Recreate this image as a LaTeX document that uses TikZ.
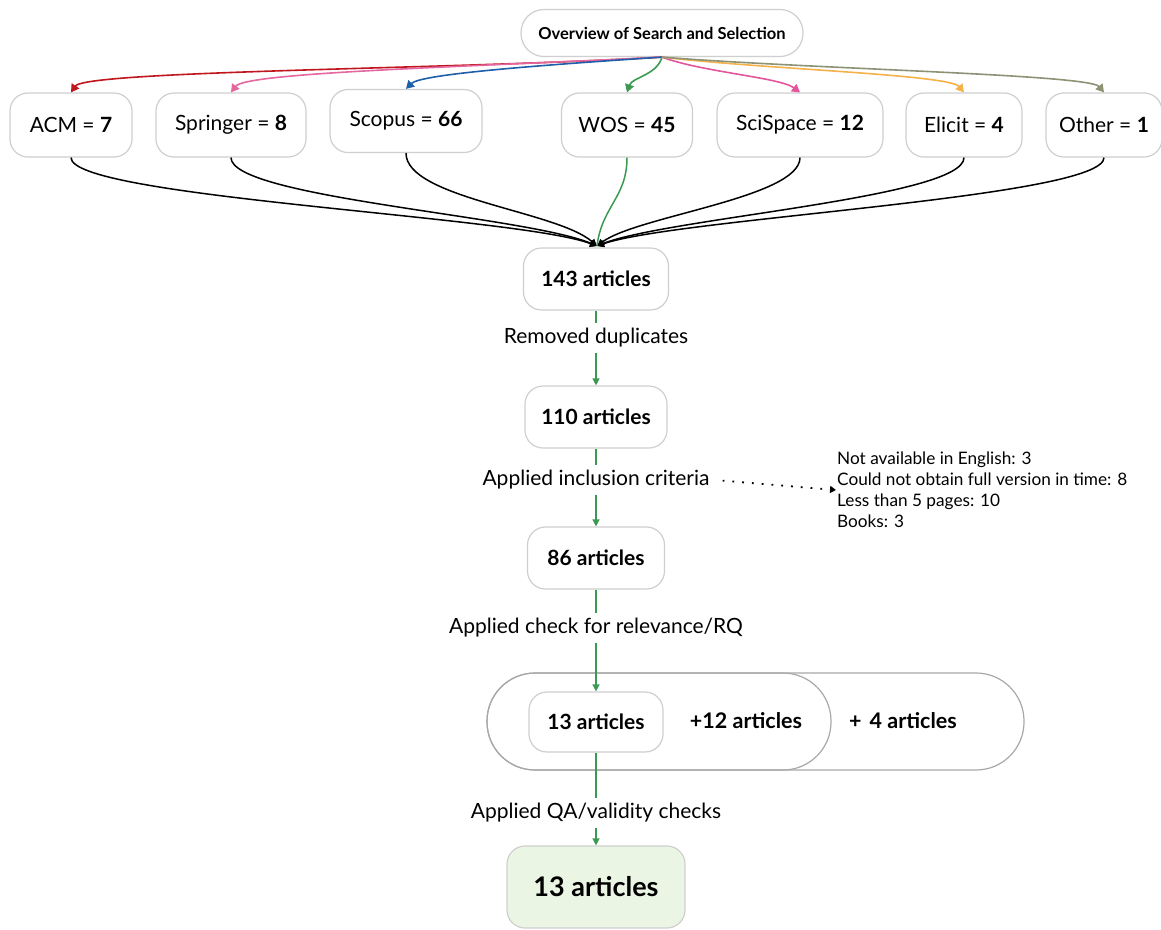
\documentclass[tikz,border=0pt]{standalone}
\usepackage{fontspec}
\setmainfont{Lato}
\usetikzlibrary{arrows.meta}
\definecolor{acmred}{HTML}{C0161E}
\definecolor{springerpink}{HTML}{E4679F}
\definecolor{scopusblue}{HTML}{1F5FAA}
\definecolor{flowgreen}{HTML}{3A9A52}
\definecolor{scispacepink}{HTML}{E3559C}
\definecolor{elicitorange}{HTML}{F5B24A}
\definecolor{otherolive}{HTML}{8C9273}
\definecolor{boxgray}{HTML}{CFCFCF}
\definecolor{pillgray}{HTML}{A8A8A8}
\definecolor{finalgreen}{HTML}{EAF5E4}
\tikzset{
  box/.style={draw=boxgray,line width=1.2pt,rounded corners=18pt,minimum height=64pt,fill=white,
    font=\fontsize{21}{25}\selectfont},
  boldbox/.style={box,font=\fontsize{21}{25}\selectfont\bfseries},
  pill/.style={draw=pillgray,line width=1.2pt,rounded corners=48pt,minimum height=97pt},
  lbl/.style={font=\fontsize{21}{25}\selectfont,inner sep=5pt},
  src/.style={line width=1.6pt,-{Triangle[width=9pt,length=8pt]}},
  hubline/.style={black,line width=1.5pt,-{Triangle[width=7pt,length=7pt]}},
  flow/.style={flowgreen,line width=1.4pt},
  flowarrow/.style={flow,-{Triangle[width=7pt,length=7pt]}}
}
\begin{document}
\begin{tikzpicture}[x=1pt,y=-1pt]
            \useasboundingbox (0,0) rectangle (1161,929);

            \node[box,minimum width=282pt,minimum height=47pt,rounded corners=23pt,font=\fontsize{16.5}{19}\selectfont\bfseries] (title) at (662,33) {Overview of Search and Selection};

            \node[box,minimum width=122pt] (acm) at (71,125) {ACM = \textbf{7}};
            \node[box,minimum width=150pt] (springer) at (231,125) {Springer = \textbf{8}};
            \node[box,minimum width=152pt,minimum height=63pt] (scopus) at (406,121) {Scopus = \textbf{66}};
            \node[box,minimum width=131pt] (wos) at (627,125) {WOS = \textbf{45}};
            \node[box,minimum width=166pt] (scispace) at (800,125) {SciSpace = \textbf{12}};
            \node[box,minimum width=116pt] (elicit) at (964,125) {Elicit = \textbf{4}};
            \node[box,minimum width=116pt] (other) at (1104,125) {Other = \textbf{1}};

            \coordinate (hub) at (597,246);

            \node[boldbox,minimum width=145pt,minimum height=62pt] (a143) at (596,279) {143 articles};
            \node[lbl] (removed) at (596,338) {Removed duplicates};
            \node[boldbox,minimum width=142pt,minimum height=62pt] (a110) at (596,417) {110 articles};
            \node[lbl] (incl) at (596,480) {Applied inclusion criteria};
            \node[boldbox,minimum width=137pt,minimum height=62pt] (a86) at (596,558) {86 articles};
            \node[lbl] (relev) at (596,628) {Applied check for relevance/RQ};

            \node[anchor=west,align=left,inner sep=1pt,font=\fontsize{17.2}{21}\selectfont] (excl) at (836,490)
              {Not available in English: 3\\Could not obtain full version in time: 8\\Less than 5 pages: 10\\Books: 3};

            %the two pills
            \node[pill,minimum width=537pt] (outer) at (755.5,721.5) {};
            \node[pill,minimum width=344pt] (inner) at (659,721.5) {};
            \node[boldbox,minimum width=134pt,minimum height=60pt] (a13) at (596,722) {13 articles};
            \node[font=\fontsize{21.5}{25}\selectfont\bfseries] (plus12) at (746,721) {+12 articles};
            \node[font=\fontsize{21.5}{25}\selectfont\bfseries] (plus4) at (903,721) {+\hspace{8pt}4 articles};

            \node[lbl] (qa) at (596,813) {Applied QA/validity checks};
            \node[boldbox,fill=finalgreen,minimum width=178pt,minimum height=82pt,font=\fontsize{27}{31}\selectfont\bfseries] (final) at (596,887) {13 articles};

            %arcs from the title
            \draw[src,acmred] (title.south) .. controls +(-200,12) and +(15,-22) .. (acm.north);
            \draw[src,springerpink] (title.south) .. controls +(-200,10) and +(15,-20) .. (springer.north);
            \draw[src,scopusblue] (title.south) .. controls +(-120,8) and +(15,-15) .. (scopus.north);
            \draw[src,flowgreen] (title.south) .. controls +(-5,18) and +(5,-15) .. (wos.north);
            \draw[src,scispacepink] (title.south) .. controls +(40,15) and +(-20,-15) .. (scispace.north);
            \draw[src,elicitorange] (title.south) .. controls +(100,12) and +(-15,-18) .. (elicit.north);
            \draw[src,otherolive] (title.south) .. controls +(150,12) and +(-15,-18) .. (other.north);

            %arcs into 143
            \draw[hubline] (acm.south) .. controls +(0,40) and +(-80,-30) .. (hub);
            \draw[hubline] (springer.south) .. controls +(0,40) and +(-70,-30) .. (hub);
            \draw[hubline] (scopus.south) .. controls +(0,45) and +(-40,-35) .. (hub);
            \draw[hubline] (scispace.south) .. controls +(0,40) and +(40,-30) .. (hub);
            \draw[hubline] (elicit.south) .. controls +(0,40) and +(70,-28) .. (hub);
            \draw[hubline] (other.south) .. controls +(0,40) and +(80,-28) .. (hub);
            \draw[flow,line width=1.5pt] (wos.south) .. controls +(0,40) and +(5,-40) .. (hub);

            %steps down
            \draw[flow] (a143) -- (removed);
            \draw[flowarrow] (removed) -- (a110);
            \draw[flow] (a110) -- (incl);
            \draw[flowarrow] (incl) -- (a86);
            \draw[flow] (a86) -- (relev);
            \draw[flowarrow] (relev) -- (a13);
            \draw[flow] (a13) -- (qa);
            \draw[flowarrow] (qa) -- (final);

            \draw[black,line width=1.8pt,dash pattern=on 1.8pt off 8pt,shorten <=8pt,-{Triangle[width=7pt,length=6pt]}] (incl.east) -- (excl.west);

        \end{tikzpicture}
\end{document}
